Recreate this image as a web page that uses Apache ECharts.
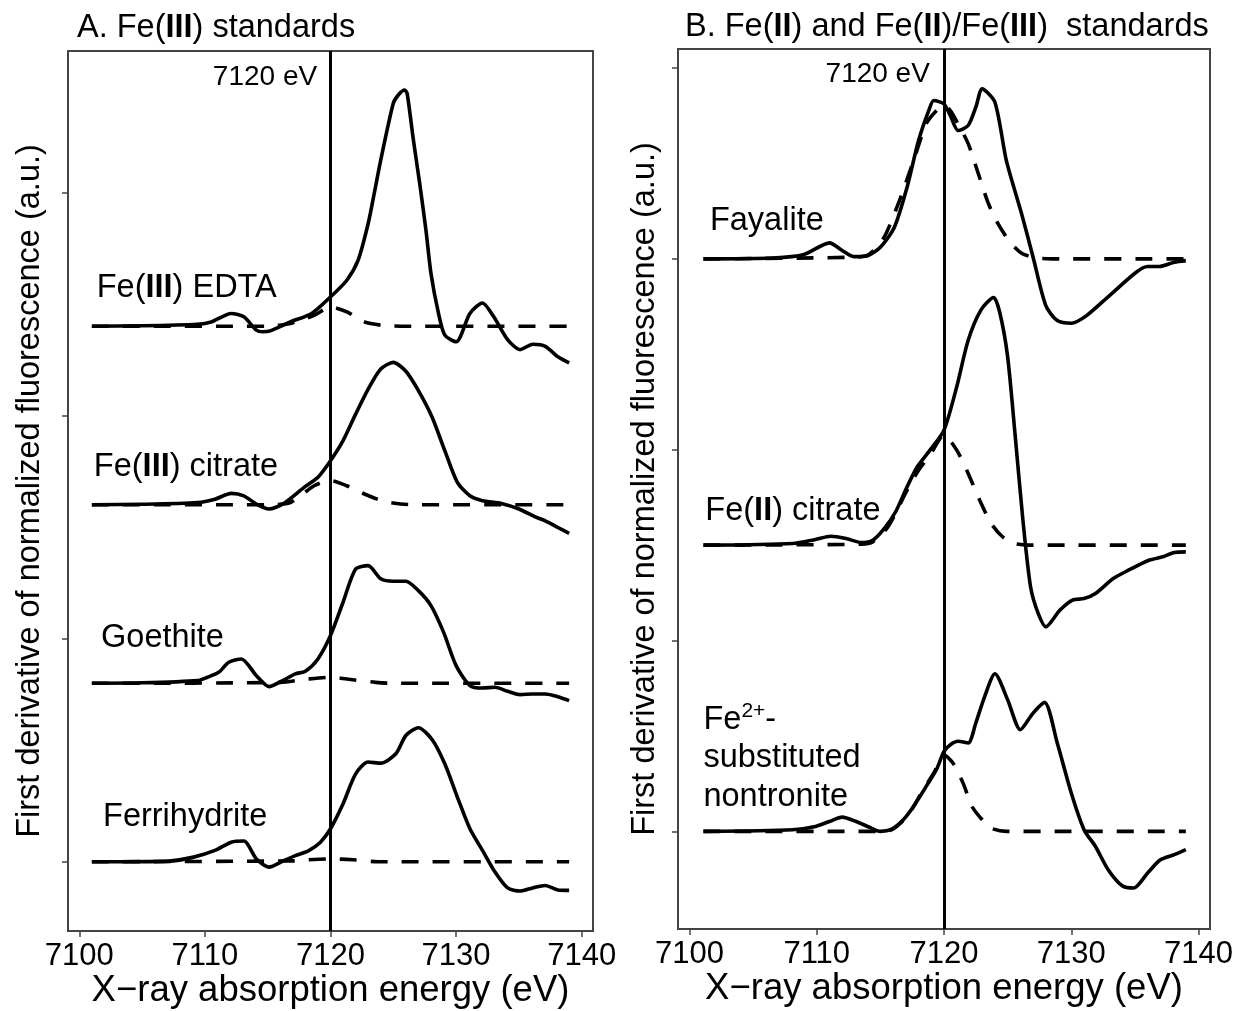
<!DOCTYPE html>
<html><head><meta charset="utf-8">
<script src="https://cdn.jsdelivr.net/npm/echarts@6/dist/echarts.min.js"></script>
<style>html,body{margin:0;padding:0;background:#fff}#c{width:1239px;height:1011px}</style>
</head><body><div id="c"></div>
<script>
// ---------- ticks / constants ----------
const xTicks = [7100, 7110, 7120, 7130, 7140];
const yTicksA = [0, 1, 2, 3];
const yTicksB = [0, 1, 2, 3, 4];
const refEnergy = 7120;

// ---------- Panel A: Fe(III) standards (values relative to each curve's baseline) ----------
const offsetsA = [2.4, 1.6, 0.8, 0];   // EDTA, citrate, goethite, ferrihydrite
const edtaSolid = [[7101.0,0],[7105,0.002],[7109.4,0.009],[7110.5,0.019],[7112.1,0.057],[7113.1,0.042],[7114.1,-0.018],[7114.6,-0.025],[7115.2,-0.021],[7116.8,0.019],[7118.5,0.057],[7120.0,0.131],[7121.3,0.206],[7122.2,0.296],[7123.0,0.46],[7123.5,0.6],[7124.0,0.744],[7125.0,0.999],[7125.4,1.036],[7125.9,1.058],[7126.1,1.043],[7126.6,0.834],[7127.1,0.64],[7127.6,0.43],[7128.0,0.236],[7128.6,0.057],[7129.1,-0.04],[7130.0,-0.07],[7131.1,0.057],[7132.1,0.104],[7133.0,0.042],[7134.1,-0.06],[7135.1,-0.105],[7136.1,-0.081],[7137.1,-0.09],[7138.1,-0.137],[7139.0,-0.164]];
const edtaDash = [[7101,0],[7115,0],[7116.8,0.012],[7118.7,0.049],[7120,0.086],[7121.3,0.064],[7122.7,0.019],[7124.1,0.004],[7125.6,0],[7139,0]];
const citAsolid = [[7101.0,0],[7105,0.002],[7109.4,0.01],[7110.8,0.025],[7112.1,0.051],[7113.1,0.04],[7114.1,0.003],[7115.1,-0.019],[7116.2,0.003],[7117.9,0.078],[7119.0,0.123],[7120.0,0.197],[7121.0,0.287],[7122.0,0.406],[7123.0,0.518],[7124.0,0.608],[7125.0,0.638],[7126.0,0.598],[7127.0,0.511],[7128.1,0.391],[7129.1,0.242],[7130.1,0.1],[7131.1,0.04],[7132.1,0.018],[7133.6,0.006],[7135.0,-0.019],[7136.4,-0.057],[7137.1,-0.072],[7138.1,-0.102],[7139.0,-0.128]];
const citAdash = [[7101,0],[7115,0],[7116.8,0.01],[7118.7,0.085],[7120,0.108],[7121.3,0.085],[7122.7,0.048],[7124.1,0.018],[7125.6,0.003],[7127,0],[7139,0]];
const goeSolid = [[7101.0,0],[7105,0.002],[7109.4,0.012],[7110.2,0.027],[7111.1,0.049],[7111.9,0.094],[7112.9,0.109],[7114.1,0.034],[7115.1,-0.015],[7116.2,0.012],[7117.2,0.042],[7118.0,0.054],[7119.0,0.109],[7120.0,0.214],[7121.0,0.363],[7122.0,0.512],[7123.0,0.527],[7124.0,0.468],[7125.0,0.457],[7126.0,0.457],[7127.0,0.415],[7128.0,0.348],[7129.0,0.229],[7130.0,0.079],[7131.1,-0.01],[7132.1,-0.021],[7133.1,-0.018],[7134.1,-0.036],[7135.1,-0.051],[7136.1,-0.048],[7137.1,-0.048],[7138.1,-0.06],[7139.0,-0.078]];
const goeDash = [[7101,0],[7116,0.004],[7118.2,0.019],[7120,0.027],[7121.3,0.019],[7123.6,0.004],[7125,0],[7139,0]];
const ferSolid = [[7101.0,0],[7107.1,0.003],[7109.1,0.021],[7110.8,0.051],[7112.1,0.088],[7113.1,0.093],[7114.1,0.013],[7115.1,-0.024],[7116.2,0.003],[7117.2,0.028],[7118.2,0.048],[7119.2,0.088],[7120.0,0.148],[7121.0,0.26],[7122.0,0.394],[7123.0,0.447],[7124.0,0.442],[7125.2,0.484],[7126.0,0.566],[7127.0,0.601],[7128.1,0.547],[7129.1,0.439],[7130.1,0.29],[7131.1,0.148],[7132.1,0.051],[7133.1,-0.046],[7134.1,-0.117],[7135.1,-0.131],[7136.1,-0.117],[7137.1,-0.106],[7138.1,-0.126],[7139.0,-0.128]];
const ferDash = [[7101,0],[7117,0.004],[7118.2,0.009],[7120,0.013],[7121.8,0.009],[7123.8,0],[7139,0]];

// ---------- Panel B: Fe(II) and Fe(II)/Fe(III) standards ----------
const offsetsB = [3.0, 1.5, 0];   // fayalite, Fe(II) citrate, nontronite
const faySolid = [[7101.1,0],[7106.6,0.005],[7109.0,0.023],[7111.0,0.084],[7112.0,0.044],[7112.9,0.012],[7114.0,0.017],[7115.0,0.061],[7116.1,0.166],[7117.1,0.376],[7118.0,0.62],[7118.8,0.777],[7119.2,0.83],[7120.0,0.812],[7120.5,0.751],[7121.1,0.673],[7121.9,0.699],[7122.5,0.795],[7123.0,0.891],[7124.0,0.821],[7124.9,0.515],[7126.1,0.236],[7127.0,0.009],[7128.0,-0.245],[7128.9,-0.323],[7130.0,-0.337],[7131.2,-0.297],[7133.0,-0.192],[7135.1,-0.07],[7136.0,-0.04],[7136.9,-0.04],[7138.1,-0.017],[7139.0,-0.009]];
const fayDash = [[7101.1,0],[7112.9,0.009],[7114.1,0.023],[7115.3,0.114],[7116.5,0.306],[7117.7,0.533],[7118.6,0.708],[7119.4,0.777],[7120.0,0.804],[7120.5,0.777],[7121.1,0.708],[7121.9,0.604],[7122.7,0.446],[7123.4,0.306],[7124.1,0.201],[7125.1,0.096],[7126.1,0.03],[7127.3,0.005],[7128.5,0],[7139,0]];
const citBsolid = [[7101.1,0],[7108.1,0.009],[7109.9,0.03],[7111.1,0.047],[7112.3,0.035],[7113.5,0.014],[7114.4,0.026],[7115.3,0.087],[7116.2,0.175],[7117.1,0.306],[7117.9,0.411],[7118.9,0.498],[7120.0,0.603],[7121.0,0.83],[7121.9,1.074],[7122.9,1.232],[7123.9,1.298],[7124.4,1.214],[7125.0,0.987],[7125.6,0.568],[7126.2,0.131],[7126.8,-0.218],[7127.4,-0.358],[7128.0,-0.428],[7129.1,-0.341],[7130.1,-0.288],[7131.0,-0.28],[7131.9,-0.253],[7133.3,-0.175],[7134.5,-0.131],[7136.1,-0.079],[7137.2,-0.061],[7138.1,-0.038],[7139.0,-0.035]];
const citBdash = [[7101.1,0],[7113.5,0.005],[7114.4,0.017],[7115.6,0.096],[7117.1,0.288],[7118.0,0.393],[7118.9,0.472],[7120.0,0.577],[7121.0,0.498],[7121.9,0.376],[7122.8,0.236],[7123.7,0.114],[7124.6,0.044],[7125.5,0.009],[7126.7,0],[7139,0]];
const nonSolid = [[7101.1,0],[7108.1,0.009],[7109.9,0.026],[7111.0,0.052],[7112.0,0.075],[7113.1,0.052],[7114.1,0.023],[7115.0,0],[7115.9,0.012],[7116.8,0.061],[7117.7,0.14],[7118.6,0.236],[7119.4,0.323],[7120.0,0.419],[7120.5,0.454],[7121.1,0.472],[7121.9,0.463],[7122.5,0.568],[7123.2,0.708],[7124.0,0.826],[7125.0,0.69],[7126.0,0.533],[7127.0,0.62],[7127.9,0.676],[7128.9,0.463],[7130.0,0.201],[7131.0,0.009],[7131.9,-0.079],[7132.9,-0.201],[7134.0,-0.285],[7134.9,-0.297],[7136.0,-0.218],[7137.0,-0.149],[7138.1,-0.122],[7139.0,-0.096]];
const nonDash = [[7101.1,0],[7115,0],[7115.9,0.009],[7117.1,0.079],[7118.3,0.21],[7119.2,0.306],[7120.0,0.402],[7120.7,0.358],[7121.5,0.253],[7122.2,0.131],[7123.0,0.061],[7123.7,0.017],[7124.9,0],[7139,0]];

// ---------- text ----------
const titleA = '{n|A. Fe(}{b|III}{n|) standards}';
const titleB = '{n|B. Fe(}{b|II}{n|) and Fe(}{b|II}{n|)/Fe(}{b|III}{n|)  standards}';
const xName = 'X\u2212ray absorption energy (eV)';
const yName = 'First derivative of normalized fluorescence (a.u.)';
const refLabel = '7120 eV';
const labelsA = [
  {pos:[7101.39, 2.571], text:'{n|Fe(}{b|III}{n|) EDTA}'},
  {pos:[7101.16, 1.770], text:'{n|Fe(}{b|III}{n|) citrate}'},
  {pos:[7101.73, 1.002], text:'{n|Goethite}'},
  {pos:[7101.89, 0.201], text:'{n|Ferrihydrite}'}
];
const labelsB = [
  {pos:[7101.61, 3.197], text:'{n|Fayalite}'},
  {pos:[7101.25, 1.677], text:'{n|Fe(}{b|II}{n|) citrate}'},
  {pos:[7101.10, 0.586], text:'{n|Fe}{s|2+}{n|-}'},
  {pos:[7101.10, 0.386], text:'{n|substituted}'},
  {pos:[7101.10, 0.182], text:'{n|nontronite}'}
];
const refPosA = [7118.94, 3.516];
const refPosB = [7118.89, 3.966];

// ---------- build chart ----------
const FONT = 'Liberation Sans';
const rich = {
  n: {fontFamily: FONT, fontSize: 32.5, fill: '#000', color: '#000', fontWeight: 'normal', lineHeight: 38},
  b: {fontFamily: FONT, fontSize: 32.5, fill: '#000', color: '#000', fontWeight: 'bold', lineHeight: 38},
  s: {fontFamily: FONT, fontSize: 21, fill: '#000', color: '#000', fontWeight: 'normal', verticalAlign: 'top', lineHeight: 38, padding: [0,0,14,0]}
};
const richTitle = {
  n: {fontFamily: FONT, fontSize: 32.5, color: '#000', fontWeight: 'normal', lineHeight: 38},
  b: {fontFamily: FONT, fontSize: 32.5, color: '#000', fontWeight: 'bold', lineHeight: 38}
};
function curve(data, offset, dashed, gi) {
  return {
    type: 'line', xAxisIndex: gi, yAxisIndex: gi, silent: true,
    data: data.map(p => [p[0], p[1] + offset]),
    symbol: 'none', showSymbol: false, smooth: 0.25,
    lineStyle: {color: '#000', width: 3.6, type: dashed ? [17, 14] : 'solid', cap: 'butt', join: 'round'},
    z: dashed ? 3 : 4
  };
}
function refLine(gi) {
  return {
    type: 'line', xAxisIndex: gi, yAxisIndex: gi, data: [], silent: true,
    markLine: {silent: true, symbol: ['none', 'none'], label: {show: false}, animation: false,
      lineStyle: {color: '#000', width: 3, type: 'solid'}, data: [{xAxis: refEnergy}]},
    z: 5
  };
}
function xAxis(gi) {
  return {
    type: 'value', gridIndex: gi, min: 7099.1, max: 7140.9,
    axisLine: {show: false, onZero: false},
    splitLine: {show: false},
    axisTick: {show: true, length: 6, customValues: xTicks, lineStyle: {color: '#444', width: 1.5}},
    axisLabel: {show: true, customValues: xTicks, margin: 10, fontFamily: FONT, fontSize: 31, color: '#000',
      formatter: v => String(v)},
    name: xName, nameLocation: 'middle', nameGap: 41, nameMoveOverlap: false,
    nameTextStyle: {fontFamily: FONT, fontSize: 36.5, color: '#000'}
  };
}
function yAxis(gi, min, max, ticks, gap) {
  return {
    type: 'value', gridIndex: gi, min: min, max: max,
    axisLine: {show: false, onZero: false}, splitLine: {show: false},
    axisTick: {show: true, length: 6, customValues: ticks, lineStyle: {color: '#444', width: 1.5}},
    axisLabel: {show: false},
    name: yName, nameLocation: 'middle', nameRotate: 90, nameGap: gap, nameMoveOverlap: false,
    nameTextStyle: {fontFamily: FONT, fontSize: 32.5, color: '#000'}
  };
}

const series = [
  refLine(0),
  curve(edtaDash, offsetsA[0], true, 0), curve(edtaSolid, offsetsA[0], false, 0),
  curve(citAdash, offsetsA[1], true, 0), curve(citAsolid, offsetsA[1], false, 0),
  curve(goeDash, offsetsA[2], true, 0), curve(goeSolid, offsetsA[2], false, 0),
  curve(ferDash, offsetsA[3], true, 0), curve(ferSolid, offsetsA[3], false, 0),
  refLine(1),
  curve(fayDash, offsetsB[0], true, 1), curve(faySolid, offsetsB[0], false, 1),
  curve(citBdash, offsetsB[1], true, 1), curve(citBsolid, offsetsB[1], false, 1),
  curve(nonDash, offsetsB[2], true, 1), curve(nonSolid, offsetsB[2], false, 1)
];

const chart = echarts.init(document.getElementById('c'), null, {renderer: 'canvas'});
chart.setOption({
  backgroundColor: '#fff',
  animation: false,
  title: [
    {text: titleA, left: 77, top: 9, padding: 0, textStyle: {rich: richTitle, fontWeight: 'normal'}},
    {text: titleB, left: 685, top: 8, padding: 0, textStyle: {rich: richTitle, fontWeight: 'normal'}}
  ],
  grid: [
    {left: 68, top: 51, width: 525, height: 880, show: true, borderColor: '#444', borderWidth: 2,
     backgroundColor: 'transparent', outerBoundsMode: 'none', containLabel: false},
    {left: 678, top: 49, width: 532, height: 880, show: true, borderColor: '#444', borderWidth: 2,
     backgroundColor: 'transparent', outerBoundsMode: 'none', containLabel: false}
  ],
  xAxis: [xAxis(0), xAxis(1)],
  yAxis: [yAxis(0, -0.31, 3.633, yTicksA, 21), yAxis(1, -0.5115, 4.10, yTicksB, 16)],
  series: series
});

// text annotations placed at data coordinates
const graphics = [];
function addLabels(list, gi) {
  list.forEach(l => {
    const p = chart.convertToPixel({gridIndex: gi}, l.pos);
    graphics.push({type: 'text', x: p[0], y: p[1], silent: true, z: 100,
      style: {text: l.text, rich: rich, align: 'left', verticalAlign: 'middle', fill: '#000'}});
  });
}
function addRef(pos, gi) {
  const p = chart.convertToPixel({gridIndex: gi}, pos);
  graphics.push({type: 'text', x: p[0], y: p[1], silent: true, z: 100,
    style: {text: refLabel, fontFamily: FONT, fontSize: 28, fill: '#000', align: 'right', verticalAlign: 'middle'}});
}
addLabels(labelsA, 0); addLabels(labelsB, 1);
addRef(refPosA, 0); addRef(refPosB, 1);
chart.setOption({graphic: graphics});
</script>
</body></html>
